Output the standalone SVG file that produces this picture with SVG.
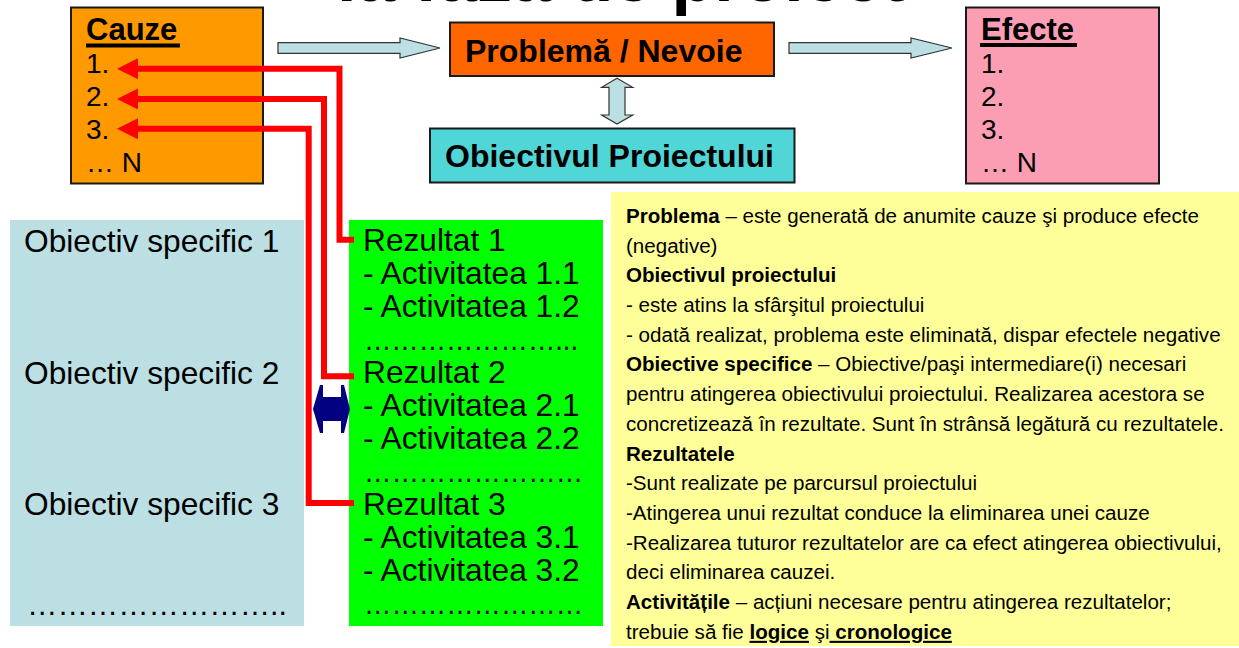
<svg xmlns="http://www.w3.org/2000/svg" width="1239" height="648" viewBox="0 0 1239 648">
<style>
text{font-family:"Liberation Sans",Arial,sans-serif;fill:#000}
.b{font-weight:bold}
.box{stroke:#1a1a1a;stroke-width:2}
.hd{font-size:31px;font-weight:bold}
.num{font-size:28px}
.big{font-size:32px;font-weight:bold}
.lst{font-size:31.7px}
.note{font-size:21px}
.harrow{fill:#BBDFE2;stroke:#333;stroke-width:1.2}
.red{fill:none;stroke:#FF0000;stroke-width:6;stroke-linejoin:miter}
.redhead{fill:#FF0000}
</style>
<rect width="1239" height="648" fill="#fff"/>
<g id="title"><text class="b" x="337" y="1" font-size="70">la faza de proiect</text></g>
<g id="cauze">
<rect class="box" x="71" y="7.5" width="192" height="176" fill="#FF9900"/>
<text class="hd" x="86" y="40">Cauze</text>
<rect x="86" y="43.5" width="94" height="4" fill="#000"/>
<text class="num" x="86" y="73">1.</text>
<text class="num" x="86" y="106">2.</text>
<text class="num" x="86" y="139">3.</text>
<text class="num" x="86" y="172">… N</text>
</g>
<g id="problema">
<rect class="box" x="450" y="22.5" width="324" height="53.5" fill="#FF6600" stroke-width="1.6"/>
<text class="big" x="465" y="61.5">Problemă / Nevoie</text>
</g>
<g id="obiectivul">
<rect class="box" x="430" y="128.5" width="364.5" height="54" fill="#50D6D6" stroke-width="1.6"/>
<text class="big" x="445" y="166.5">Obiectivul Proiectului</text>
</g>
<g id="efecte">
<rect class="box" x="966" y="7.5" width="193" height="176" fill="#FB9EB3"/>
<text class="hd" x="981" y="40">Efecte</text>
<rect x="980" y="43" width="97" height="4" fill="#000"/>
<text class="num" x="981" y="73">1.</text>
<text class="num" x="981" y="106">2.</text>
<text class="num" x="981" y="139">3.</text>
<text class="num" x="981" y="172">… N</text>
</g>
<g id="obiective-specifice">
<rect x="10" y="220" width="294" height="406" fill="#BBDFE2"/>
<text class="lst" x="24" y="251.5">Obiectiv specific 1</text>
<text class="lst" x="24" y="383.5">Obiectiv specific 2</text>
<text class="lst" x="24" y="515">Obiectiv specific 3</text>
<text class="lst" x="27" y="615" textLength="260" lengthAdjust="spacingAndGlyphs">……………………..</text>
</g>
<g id="rezultate">
<rect x="349" y="220" width="254" height="406" fill="#00FF00"/>
<text class="lst" x="363" y="251">Rezultat 1</text>
<text class="lst" x="363" y="284">- Activitatea 1.1</text>
<text class="lst" x="363" y="317">- Activitatea 1.2</text>
<text class="lst" x="364" y="350" textLength="214" lengthAdjust="spacingAndGlyphs">…………………...</text>
<text class="lst" x="363" y="383">Rezultat 2</text>
<text class="lst" x="363" y="416">- Activitatea 2.1</text>
<text class="lst" x="363" y="449">- Activitatea 2.2</text>
<text class="lst" x="364" y="482" textLength="219" lengthAdjust="spacingAndGlyphs">……………………</text>
<text class="lst" x="363" y="515">Rezultat 3</text>
<text class="lst" x="363" y="548">- Activitatea 3.1</text>
<text class="lst" x="363" y="581">- Activitatea 3.2</text>
<text class="lst" x="364" y="614" textLength="219" lengthAdjust="spacingAndGlyphs">……………………</text>
</g>
<g id="explicatii">
<rect x="611" y="192" width="628" height="454" fill="#FFFF99"/>
<g transform="translate(626,0) scale(0.98,1)">
<text class="note" x="0" y="223"><tspan class="b">Problema</tspan> – este generată de anumite cauze şi produce efecte</text>
<text class="note" x="0" y="252.7">(negative)</text>
<text class="note b" x="0" y="282.4">Obiectivul proiectului</text>
<text class="note" x="0" y="312.1">- este atins la sfârşitul proiectului</text>
<text class="note" x="0" y="341.8">- odată realizat, problema este eliminată, dispar efectele negative</text>
<text class="note" x="0" y="371.5"><tspan class="b">Obiective specifice</tspan> – Obiective/paşi intermediare(i) necesari</text>
<text class="note" x="0" y="401.2">pentru atingerea obiectivului proiectului. Realizarea acestora se</text>
<text class="note" x="0" y="430.9">concretizează în rezultate. Sunt în strânsă legătură cu rezultatele.</text>
<text class="note b" x="0" y="460.6">Rezultatele</text>
<text class="note" x="0" y="490.3">-Sunt realizate pe parcursul proiectului</text>
<text class="note" x="0" y="520">-Atingerea unui rezultat conduce la eliminarea unei cauze</text>
<text class="note" x="0" y="549.7">-Realizarea tuturor rezultatelor are ca efect atingerea obiectivului,</text>
<text class="note" x="0" y="579.4">deci eliminarea cauzei.</text>
<text class="note" x="0" y="609.1"><tspan class="b">Activitățile</tspan> – acțiuni necesare pentru atingerea rezultatelor;</text>
<text class="note" x="0" y="638.8">trebuie să fie <tspan class="b" text-decoration="underline">logice</tspan> şi<tspan class="b" text-decoration="underline"> cronologice</tspan></text>
</g>
</g>
<g id="connectors">
<polygon class="harrow" points="278,42.7 400,42.7 400,38 440,48 400,58 400,53.3 278,53.3"/>
<polygon class="harrow" points="789,42.7 911,42.7 911,38 952,48 911,58 911,53.3 789,53.3"/>
<polygon class="harrow" points="617,78.3 632.7,87.3 625,87.3 625,115 632.7,115 617,124 601.7,115 609,115 609,87.3 601.7,87.3"/>
<path class="red" d="M134 68.7 H339.5 V239.7 H354"/>
<path class="red" d="M134 99 H324 V376.3 H354"/>
<path class="red" d="M134 128.7 H308.7 V503 H354"/>
<polygon class="redhead" points="117,68.7 138,58.2 138,79.2"/>
<polygon class="redhead" points="117,99 138,88.5 138,109.5"/>
<polygon class="redhead" points="117,128.7 138,118.2 138,139.2"/>
<polygon fill="#000080" points="313,409 320,385 323,385 323,397 341,397 341,385 344,385 350,409 344,433 341,433 341,421 323,421 323,433 320,433"/>
</g>
</svg>
